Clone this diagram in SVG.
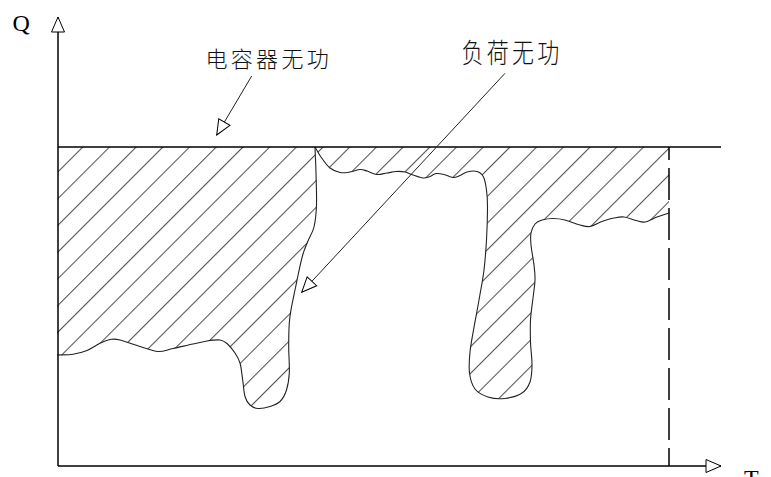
<svg xmlns="http://www.w3.org/2000/svg" width="771" height="477" viewBox="0 0 771 477">
<style>
.ax{stroke:#000;stroke-width:1.5;fill:none}
.edge{stroke:#222;stroke-width:1.1;fill:none}
.lead{stroke:#222;stroke-width:1;fill:none}
.lab{font-family:"Noto Sans CJK SC","Noto Sans",sans-serif;font-size:22px;font-weight:300;letter-spacing:3.3px;fill:#111}
.let{font-family:"Liberation Serif",serif;font-size:24px;font-weight:400;fill:#000}
</style>
<defs>
<pattern id="hatch" patternUnits="userSpaceOnUse" width="18.88" height="20" patternTransform="rotate(45)">
<line x1="11.5" y1="-1" x2="11.5" y2="21" stroke="#333" stroke-width="0.9"/>
</pattern>
<marker id="ah" markerUnits="userSpaceOnUse" viewBox="-16 -8 17 16" refX="0" refY="0" markerWidth="17" markerHeight="16" orient="auto" overflow="visible">
<path d="M0,0 L-15,-6.5 L-15,6.5 Z" fill="#fff" stroke="#000" stroke-width="1"/>
</marker>
</defs>
<rect width="771" height="477" fill="#fff"/>

<g id="region">
<path fill="url(#hatch)" stroke="none" d="M58,147 H669 V213 C665,214.3 661,215.5 657,217 S648.5,221.4 645,222 S639.5,221.3 636,220.5 S627.7,217.4 624,217 S617.7,217.3 614,218 S606,220.1 602,221.5 S593.7,225.9 590,226.5 S584.2,226.1 580,225 S569.5,221.1 565,220 S556.8,218.5 553,218.5 S545,219.1 542,220 S536.8,221.8 535,224 S531.7,229.5 531,233 S530.5,239.7 531,245 S533.3,259.2 534,265 S535.2,274.5 535,280 S533.8,291.3 533,298 S530.9,312.7 530.5,320 S530.3,334.5 530.5,342 S532.1,358.3 532,365 S531.7,377.3 530,382 S526.2,390.3 522,393 S510.7,397.8 505,398.5 S493,398.6 488,397 S478.1,393 475,389 S470.3,379.2 469.5,373 S469.3,359.2 470,352 S472,338.7 473.5,330 S477.3,310 479,300 S482.8,280 484,270 S485.9,250.5 486.5,240 S487.5,215.3 487.5,207 S487.2,195 486.5,190 S485.1,180.1 483.5,177 S479.8,172.3 477,171.5 S469.8,171.3 467,172 S462.3,174.6 460,175.5 S455.7,177.7 453,177.5 S446.8,175.2 444,174.5 S438.3,173.2 436,173.5 S432.2,175.8 430,176.5 S425.8,178.3 423,178 S416,176 413,175 S407.8,172.6 405,172 S399,171.3 396,171.5 S390.2,172.5 387,173 S380.3,174.8 377,174.5 S369.8,171.8 367,171 S362.8,169.3 360,169.5 S353.3,171.5 350,172 S343.3,173.2 340,172.5 S333.2,170.6 330,168 S323.5,160.5 321,157 S317,150.3 315,147 C315.3,155.7 315.75,163.3 316,173 S316.8,196 316.5,205 S315.4,221 314,227 S309.8,236.5 308,241 S304.6,248.7 303,254 S299.8,267 298.5,273 S296.2,284.3 295,290 S292.5,301.5 291.5,307 S289.8,316.3 289.3,323 S288.7,338.7 288.7,347 S289.7,365.8 289.3,373 S288,385.3 286.5,390 S282.8,398.8 280,401.5 S273.7,405.3 270,406.5 S261.3,408.8 258,408.5 S252.2,407 250,405 S246.2,400.7 245,396.5 S243.5,385.6 242.7,380 S241.3,367.5 240,363 S237.2,356.3 235,353 S229.5,345.7 227,343.5 S223.3,340.4 220,340 S211.5,340.3 207,341 S198.7,342.8 193,344 S178.8,347.3 173,348.5 S163.5,351.8 158,351.5 S146.3,348.4 140,346.5 S124.8,341.2 120,340 S114.8,338.8 111.5,339.3 S104.1,341.4 100,343.3 S91.5,348.7 87,350.5 S78,353.6 73,354.3 S62.3,354.8 57,355 L58,147 Z"/>
<path class="edge" d="M669,213 C665,214.3 661,215.5 657,217 S648.5,221.4 645,222 S639.5,221.3 636,220.5 S627.7,217.4 624,217 S617.7,217.3 614,218 S606,220.1 602,221.5 S593.7,225.9 590,226.5 S584.2,226.1 580,225 S569.5,221.1 565,220 S556.8,218.5 553,218.5 S545,219.1 542,220 S536.8,221.8 535,224 S531.7,229.5 531,233 S530.5,239.7 531,245 S533.3,259.2 534,265 S535.2,274.5 535,280 S533.8,291.3 533,298 S530.9,312.7 530.5,320 S530.3,334.5 530.5,342 S532.1,358.3 532,365 S531.7,377.3 530,382 S526.2,390.3 522,393 S510.7,397.8 505,398.5 S493,398.6 488,397 S478.1,393 475,389 S470.3,379.2 469.5,373 S469.3,359.2 470,352 S472,338.7 473.5,330 S477.3,310 479,300 S482.8,280 484,270 S485.9,250.5 486.5,240 S487.5,215.3 487.5,207 S487.2,195 486.5,190 S485.1,180.1 483.5,177 S479.8,172.3 477,171.5 S469.8,171.3 467,172 S462.3,174.6 460,175.5 S455.7,177.7 453,177.5 S446.8,175.2 444,174.5 S438.3,173.2 436,173.5 S432.2,175.8 430,176.5 S425.8,178.3 423,178 S416,176 413,175 S407.8,172.6 405,172 S399,171.3 396,171.5 S390.2,172.5 387,173 S380.3,174.8 377,174.5 S369.8,171.8 367,171 S362.8,169.3 360,169.5 S353.3,171.5 350,172 S343.3,173.2 340,172.5 S333.2,170.6 330,168 S323.5,160.5 321,157 S317,150.3 315,147"/>
<path class="edge" d="M315,147 C315.3,155.7 315.75,163.3 316,173 S316.8,196 316.5,205 S315.4,221 314,227 S309.8,236.5 308,241 S304.6,248.7 303,254 S299.8,267 298.5,273 S296.2,284.3 295,290 S292.5,301.5 291.5,307 S289.8,316.3 289.3,323 S288.7,338.7 288.7,347 S289.7,365.8 289.3,373 S288,385.3 286.5,390 S282.8,398.8 280,401.5 S273.7,405.3 270,406.5 S261.3,408.8 258,408.5 S252.2,407 250,405 S246.2,400.7 245,396.5 S243.5,385.6 242.7,380 S241.3,367.5 240,363 S237.2,356.3 235,353 S229.5,345.7 227,343.5 S223.3,340.4 220,340 S211.5,340.3 207,341 S198.7,342.8 193,344 S178.8,347.3 173,348.5 S163.5,351.8 158,351.5 S146.3,348.4 140,346.5 S124.8,341.2 120,340 S114.8,338.8 111.5,339.3 S104.1,341.4 100,343.3 S91.5,348.7 87,350.5 S78,353.6 73,354.3 S62.3,354.8 57,355"/>
</g>

<g id="axes">
<line class="ax" x1="58" y1="466" x2="58" y2="17" marker-end="url(#ah)"/>
<line class="ax" x1="58" y1="466" x2="721" y2="466" marker-end="url(#ah)"/>
<line class="ax" x1="58" y1="147" x2="721" y2="147"/>
<line class="ax" x1="669" y1="466" x2="669" y2="147" stroke-dasharray="32 8" stroke-dashoffset="14"/>
<text class="let" x="12.5" y="31">Q</text>
<text class="let" x="744" y="486">T</text>
</g>

<g id="label-capacitor">
<text class="lab" x="205.5" y="67">电容器无功</text>
</g>
<g id="label-load">
<text class="lab" transform="translate(461.5,63) scale(1,1.25)" x="0" y="0">负荷无功</text>
</g>

<g id="connectors">
<line class="lead" x1="251.7" y1="76" x2="216.7" y2="135" marker-end="url(#ah)"/>
<line class="lead" x1="505" y1="73.3" x2="301.7" y2="292.3" marker-end="url(#ah)"/>
</g>
</svg>
